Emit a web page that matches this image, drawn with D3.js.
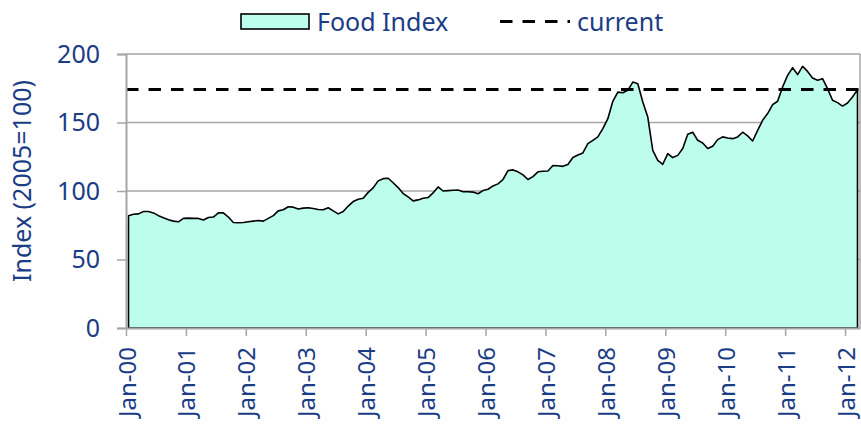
<!DOCTYPE html>
<html>
<head>
<meta charset="utf-8">
<script src="https://cdn.jsdelivr.net/npm/d3@7"></script>
<style>
  html, body { margin: 0; padding: 0; background: #ffffff; }
  svg { display: block; }
  text { font-family: "Noto Sans", "DejaVu Sans", sans-serif; }
</style>
</head>
<body>
<svg id="chart" width="861" height="428"></svg>
<script>
// ---- data (monthly Food Index, 2005=100), Jan-2000 .. Mar-2012 ----
const years = ["00","01","02","03","04","05","06","07","08","09","10","11","12"];
const monthNames = ["Jan","Feb","Mar","Apr","May","Jun","Jul","Aug","Sep","Oct","Nov","Dec"];
const v2000 = [82, 83, 83.3, 85, 85, 84, 82, 80.5, 79, 78, 77.5, 80];
const v2001 = [80.2, 80, 80, 78.8, 80.7, 81, 84, 84, 81, 77, 76.8, 77];
const v2002 = [77.5, 78, 78.5, 78, 80, 82, 85.5, 86.3, 88.5, 88.2, 86.8, 87.5];
const v2003 = [87.8, 87.2, 86.5, 86.3, 87.8, 85.5, 83.3, 85, 89, 92.3, 94, 94.7];
const v2004 = [99, 102.3, 107.4, 109, 109.3, 106, 102.5, 98.2, 95.7, 92.8, 93.5, 94.7];
const v2005 = [95.2, 98.6, 103, 100, 100.3, 100.5, 100.7, 99.5, 99.5, 99.2, 98, 100.3];
const v2006 = [101.3, 103.7, 105.2, 108.4, 114.9, 115.4, 114, 111.8, 108.4, 110.5, 114, 114.4];
const v2007 = [114.6, 118.6, 118.4, 118, 119.3, 124.4, 126.3, 127.8, 134.6, 137, 139.5, 145.5];
const v2008 = [152.8, 165.5, 172.2, 171.7, 173.5, 179.5, 178.3, 165, 154, 129.7, 122.4, 119.5];
const v2009 = [127.3, 124.4, 126, 131, 141.4, 142.9, 137, 135, 131, 132.7, 137.5, 139.5];
const v2010 = [138.7, 138.2, 139.5, 142.9, 140.2, 136.5, 144.3, 151.6, 156.5, 163, 165.5, 175.9];
const v2011 = [184.4, 190, 185, 191, 187.3, 182.5, 180.8, 182, 174.7, 166.2, 164.5, 162];
const v2012 = [164.2, 168.6, 174];
const currentValue = 174;
const yTicks = [0, 50, 100, 150, 200];
const seriesName = "Food Index";
const currentName = "current";
const yTitle = "Index (2005=100)";

const values = [].concat(v2000, v2001, v2002, v2003, v2004, v2005, v2006,
                         v2007, v2008, v2009, v2010, v2011, v2012);
const labels = values.map((_, i) => monthNames[i % 12] + "-" + years[Math.floor(i / 12)]);

// ---- layout ----
const textColor = "#1b3c86";
const gridColor = "#a6a6a6";
const fillColor = "#bdfdeb";
const plotLeft = 126, plotRight = 860, plotTop = 54, plotBottom = 328;

const svg = d3.select("#chart");
const x = d3.scaleLinear().domain([0, values.length]).range([plotLeft, plotRight]);
const y = d3.scaleLinear().domain([0, 200]).range([plotBottom, plotTop]);

// gridlines
svg.append("g")
  .selectAll("line")
  .data(yTicks.filter(t => t > 0))
  .join("line")
  .attr("x1", plotLeft).attr("x2", plotRight)
  .attr("y1", d => y(d)).attr("y2", d => y(d))
  .attr("stroke", gridColor).attr("stroke-width", 1.5);

// right border of plot area
svg.append("line")
  .attr("x1", plotRight).attr("x2", plotRight)
  .attr("y1", y(200)).attr("y2", y(0))
  .attr("stroke", gridColor).attr("stroke-width", 1.5);

// area
const area = d3.area()
  .x((d, i) => x(i + 0.5))
  .y0(y(0))
  .y1(d => y(d));
svg.append("path")
  .datum(values)
  .attr("d", area)
  .attr("fill", fillColor)
  .attr("stroke", "#000")
  .attr("stroke-width", 1.6)
  .attr("stroke-linejoin", "round");

// current line
svg.append("line")
  .attr("x1", plotLeft).attr("x2", plotRight)
  .attr("y1", y(currentValue)).attr("y2", y(currentValue))
  .attr("stroke", "#000").attr("stroke-width", 3)
  .attr("stroke-dasharray", "12.5,10");

// y axis
const yAxis = svg.append("g")
  .attr("transform", `translate(${plotLeft},0)`)
  .call(d3.axisLeft(y).tickValues(yTicks).tickSize(9).tickPadding(17).tickFormat(d3.format("d")));
yAxis.select(".domain").attr("stroke", gridColor).attr("stroke-width", 2);
yAxis.selectAll(".tick line").attr("stroke", gridColor).attr("stroke-width", 1.5);
yAxis.selectAll(".tick text")
  .attr("fill", textColor).attr("font-size", 25)
  .attr("font-family", "'Noto Sans', sans-serif");

// x axis
const janIdx = d3.range(0, values.length, 12);
const xAxis = svg.append("g")
  .attr("transform", `translate(0,${plotBottom})`)
  .call(d3.axisBottom(x).tickValues(janIdx).tickSize(8).tickSizeOuter(0)
        .tickFormat(i => labels[i]));
xAxis.select(".domain").attr("stroke", gridColor).attr("stroke-width", 2);
xAxis.selectAll(".tick line").attr("stroke", gridColor).attr("stroke-width", 1.5);
xAxis.selectAll(".tick text")
  .attr("fill", textColor).attr("font-size", 24)
  .attr("font-family", "'Noto Sans', sans-serif")
  .attr("transform", "rotate(-90)")
  .attr("text-anchor", "end")
  .attr("x", -19).attr("y", 9).attr("dy", 0);

// y title
svg.append("text")
  .attr("transform", "translate(31,181) rotate(-90)")
  .attr("text-anchor", "middle")
  .attr("fill", textColor).attr("font-size", 25)
  .text(yTitle);

// legend
const lg = svg.append("g");
lg.append("rect")
  .attr("x", 241).attr("y", 14).attr("width", 68).attr("height", 15)
  .attr("fill", fillColor).attr("stroke", "#000").attr("stroke-width", 1.6);
lg.append("text")
  .attr("x", 317).attr("y", 30.5)
  .attr("fill", textColor).attr("font-size", 25)
  .text(seriesName);
lg.append("line")
  .attr("x1", 500).attr("x2", 570).attr("y1", 21.5).attr("y2", 21.5)
  .attr("stroke", "#000").attr("stroke-width", 3)
  .attr("stroke-dasharray", "12.5,10");
lg.append("text")
  .attr("x", 577).attr("y", 30.5)
  .attr("fill", textColor).attr("font-size", 25)
  .text(currentName);
</script>
</body>
</html>
